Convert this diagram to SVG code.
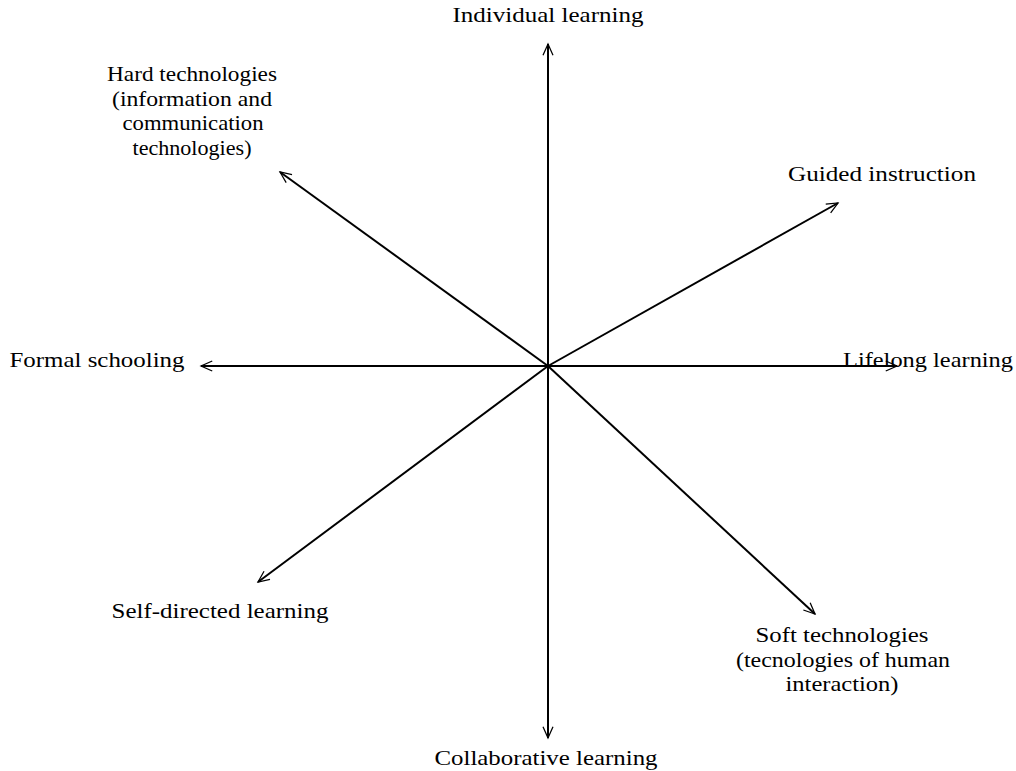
<svg xmlns="http://www.w3.org/2000/svg" width="1016" height="771" viewBox="0 0 1016 771">
  <style>
    .axis { stroke: #000; stroke-width: 2; fill: none; marker-end: url(#tip); }
    .lbl { font-family: "Liberation Serif", "DejaVu Serif", serif; font-size: 22px; fill: #000; text-anchor: middle; }
  </style>
  <defs>
    <marker id="tip" markerUnits="userSpaceOnUse" markerWidth="20" markerHeight="20" refX="0" refY="0" viewBox="-12 -8 14 16" orient="auto">
      <path d="M -9 -4 L 0 0 L -9 4" fill="none" stroke="#000" stroke-width="1"/>
    </marker>
  </defs>
  <rect width="1016" height="771" fill="#fff"/>

  <!-- eight axes radiating from the centre -->
  <g id="connectors">
    <line class="axis" x1="548" y1="366" x2="548" y2="44"/>
    <line class="axis" x1="548" y1="366" x2="548" y2="738"/>
    <line class="axis" x1="548" y1="366" x2="201" y2="366"/>
    <line class="axis" x1="548" y1="366" x2="897" y2="366"/>
    <line class="axis" x1="548" y1="366" x2="280" y2="172"/>
    <line class="axis" x1="548" y1="366" x2="838" y2="203"/>
    <line class="axis" x1="548" y1="366" x2="258" y2="582"/>
    <line class="axis" x1="548" y1="366" x2="815" y2="614"/>
  </g>

  <g id="individual-learning">
    <text class="lbl" x="548" y="22" textLength="191" lengthAdjust="spacingAndGlyphs">Individual learning</text>
  </g>
  <g id="hard-technologies">
    <text class="lbl" x="192" y="81" textLength="170" lengthAdjust="spacingAndGlyphs">Hard technologies</text>
    <text class="lbl" x="192" y="106" textLength="160" lengthAdjust="spacingAndGlyphs">(information and</text>
    <text class="lbl" x="193" y="130" textLength="141" lengthAdjust="spacingAndGlyphs">communication</text>
    <text class="lbl" x="192" y="155" textLength="119" lengthAdjust="spacingAndGlyphs">technologies)</text>
  </g>
  <g id="guided-instruction">
    <text class="lbl" x="882" y="181" textLength="188" lengthAdjust="spacingAndGlyphs">Guided instruction</text>
  </g>
  <g id="formal-schooling">
    <text class="lbl" x="97" y="367" textLength="175" lengthAdjust="spacingAndGlyphs">Formal schooling</text>
  </g>
  <g id="lifelong-learning">
    <text class="lbl" x="928" y="367" textLength="170" lengthAdjust="spacingAndGlyphs">Lifelong learning</text>
  </g>
  <g id="self-directed-learning">
    <text class="lbl" x="220" y="618" textLength="217" lengthAdjust="spacingAndGlyphs">Self-directed learning</text>
  </g>
  <g id="soft-technologies">
    <text class="lbl" x="842" y="642" textLength="173" lengthAdjust="spacingAndGlyphs">Soft technologies</text>
    <text class="lbl" x="843" y="667" textLength="214" lengthAdjust="spacingAndGlyphs">(tecnologies of human</text>
    <text class="lbl" x="842" y="691" textLength="113" lengthAdjust="spacingAndGlyphs">interaction)</text>
  </g>
  <g id="collaborative-learning">
    <text class="lbl" x="546" y="765" textLength="223" lengthAdjust="spacingAndGlyphs">Collaborative learning</text>
  </g>
</svg>
